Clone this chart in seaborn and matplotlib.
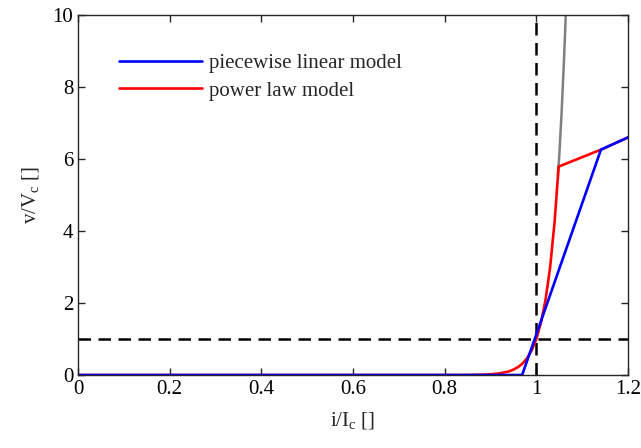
import pandas as pd
import matplotlib
matplotlib.use('Agg')
import matplotlib.pyplot as plt
import seaborn as sns

# piecewise linear model
lin_x = [0.0, 0.969, 1.141, 1.2]
lin_v = [0.0, 0.0, 6.26, 6.6]

# power law model, up to the cut-off, then joining the linear model
pow_x = [0.0, 0.80, 0.85, 0.88, 0.90, 0.92, 0.94, 0.95, 0.96, 0.97, 0.98, 0.99,
         1.00, 1.01, 1.02, 1.03, 1.04, 1.0487, 1.141, 1.2]
pow_v = [0.0, 0.0003, 0.0025, 0.009, 0.020, 0.046, 0.10, 0.15, 0.22, 0.32, 0.47, 0.69,
         1.00, 1.45, 2.08, 2.98, 4.27, 5.79, 6.26, 6.6]

# unclipped power law (grey)
grey_x = [1.047, 1.050, 1.055, 1.060, 1.063, 1.066]
grey_v = [5.55, 6.08, 7.25, 8.65, 9.60, 10.6]

sns.set_style('ticks')
plt.rcParams['font.family'] = ['Liberation Serif', 'DejaVu Serif']
plt.rcParams['mathtext.fontset'] = 'custom'
plt.rcParams['mathtext.rm'] = 'Liberation Serif'
plt.rcParams['mathtext.it'] = 'Liberation Serif:italic'

fig = plt.figure(figsize=(6.41, 4.48), dpi=100)
ax = fig.add_axes([0.1217, 0.1629, 0.858, 0.8036])

lin = pd.DataFrame({'x': lin_x, 'v': lin_v})
pw = pd.DataFrame({'x': pow_x, 'v': pow_v})
gr = pd.DataFrame({'x': grey_x, 'v': grey_v})

sns.lineplot(data=gr, x='x', y='v', ax=ax, color='#808080', lw=1.8, sort=False)
ax.axvline(1.0, color='black', ls=(0, (5, 3)), lw=1.8)
ax.axhline(1.0, color='black', ls=(0, (5, 3)), lw=1.8)
sns.lineplot(data=pw, x='x', y='v', ax=ax, color='#ff0000', lw=1.9, sort=False,
             label='power law model')
sns.lineplot(data=lin, x='x', y='v', ax=ax, color='#0000ff', lw=1.9, sort=False,
             label='piecewise linear model')

h, l = ax.get_legend_handles_labels()
ax.legend(h[::-1], l[::-1], loc='upper left', bbox_to_anchor=(0.04, 0.945),
          frameon=False, fontsize=15, handlelength=4.0, handletextpad=0.35,
          labelspacing=0.38)

ax.set_xlim(0, 1.2)
ax.set_ylim(0, 10)
ax.set_xticks([0, 0.2, 0.4, 0.6, 0.8, 1.0, 1.2])
ax.set_xticklabels(['0', '0.2', '0.4', '0.6', '0.8', '1', '1.2'])
ax.set_yticks([0, 2, 4, 6, 8, 10])
ax.tick_params(direction='in', top=True, right=True, labelsize=15, length=5,
               width=1, colors='#262626')
ax.tick_params(labelcolor='black')
for s in ax.spines.values():
    s.set_linewidth(1.0)
    s.set_color('#262626')

ax.set_xlabel(r'i/I$_\mathrm{c}$ []', fontsize=15, labelpad=8)
ax.set_ylabel(r'v/V$_\mathrm{c}$ []', fontsize=15, labelpad=8)

fig.savefig('out.png', dpi=100)
